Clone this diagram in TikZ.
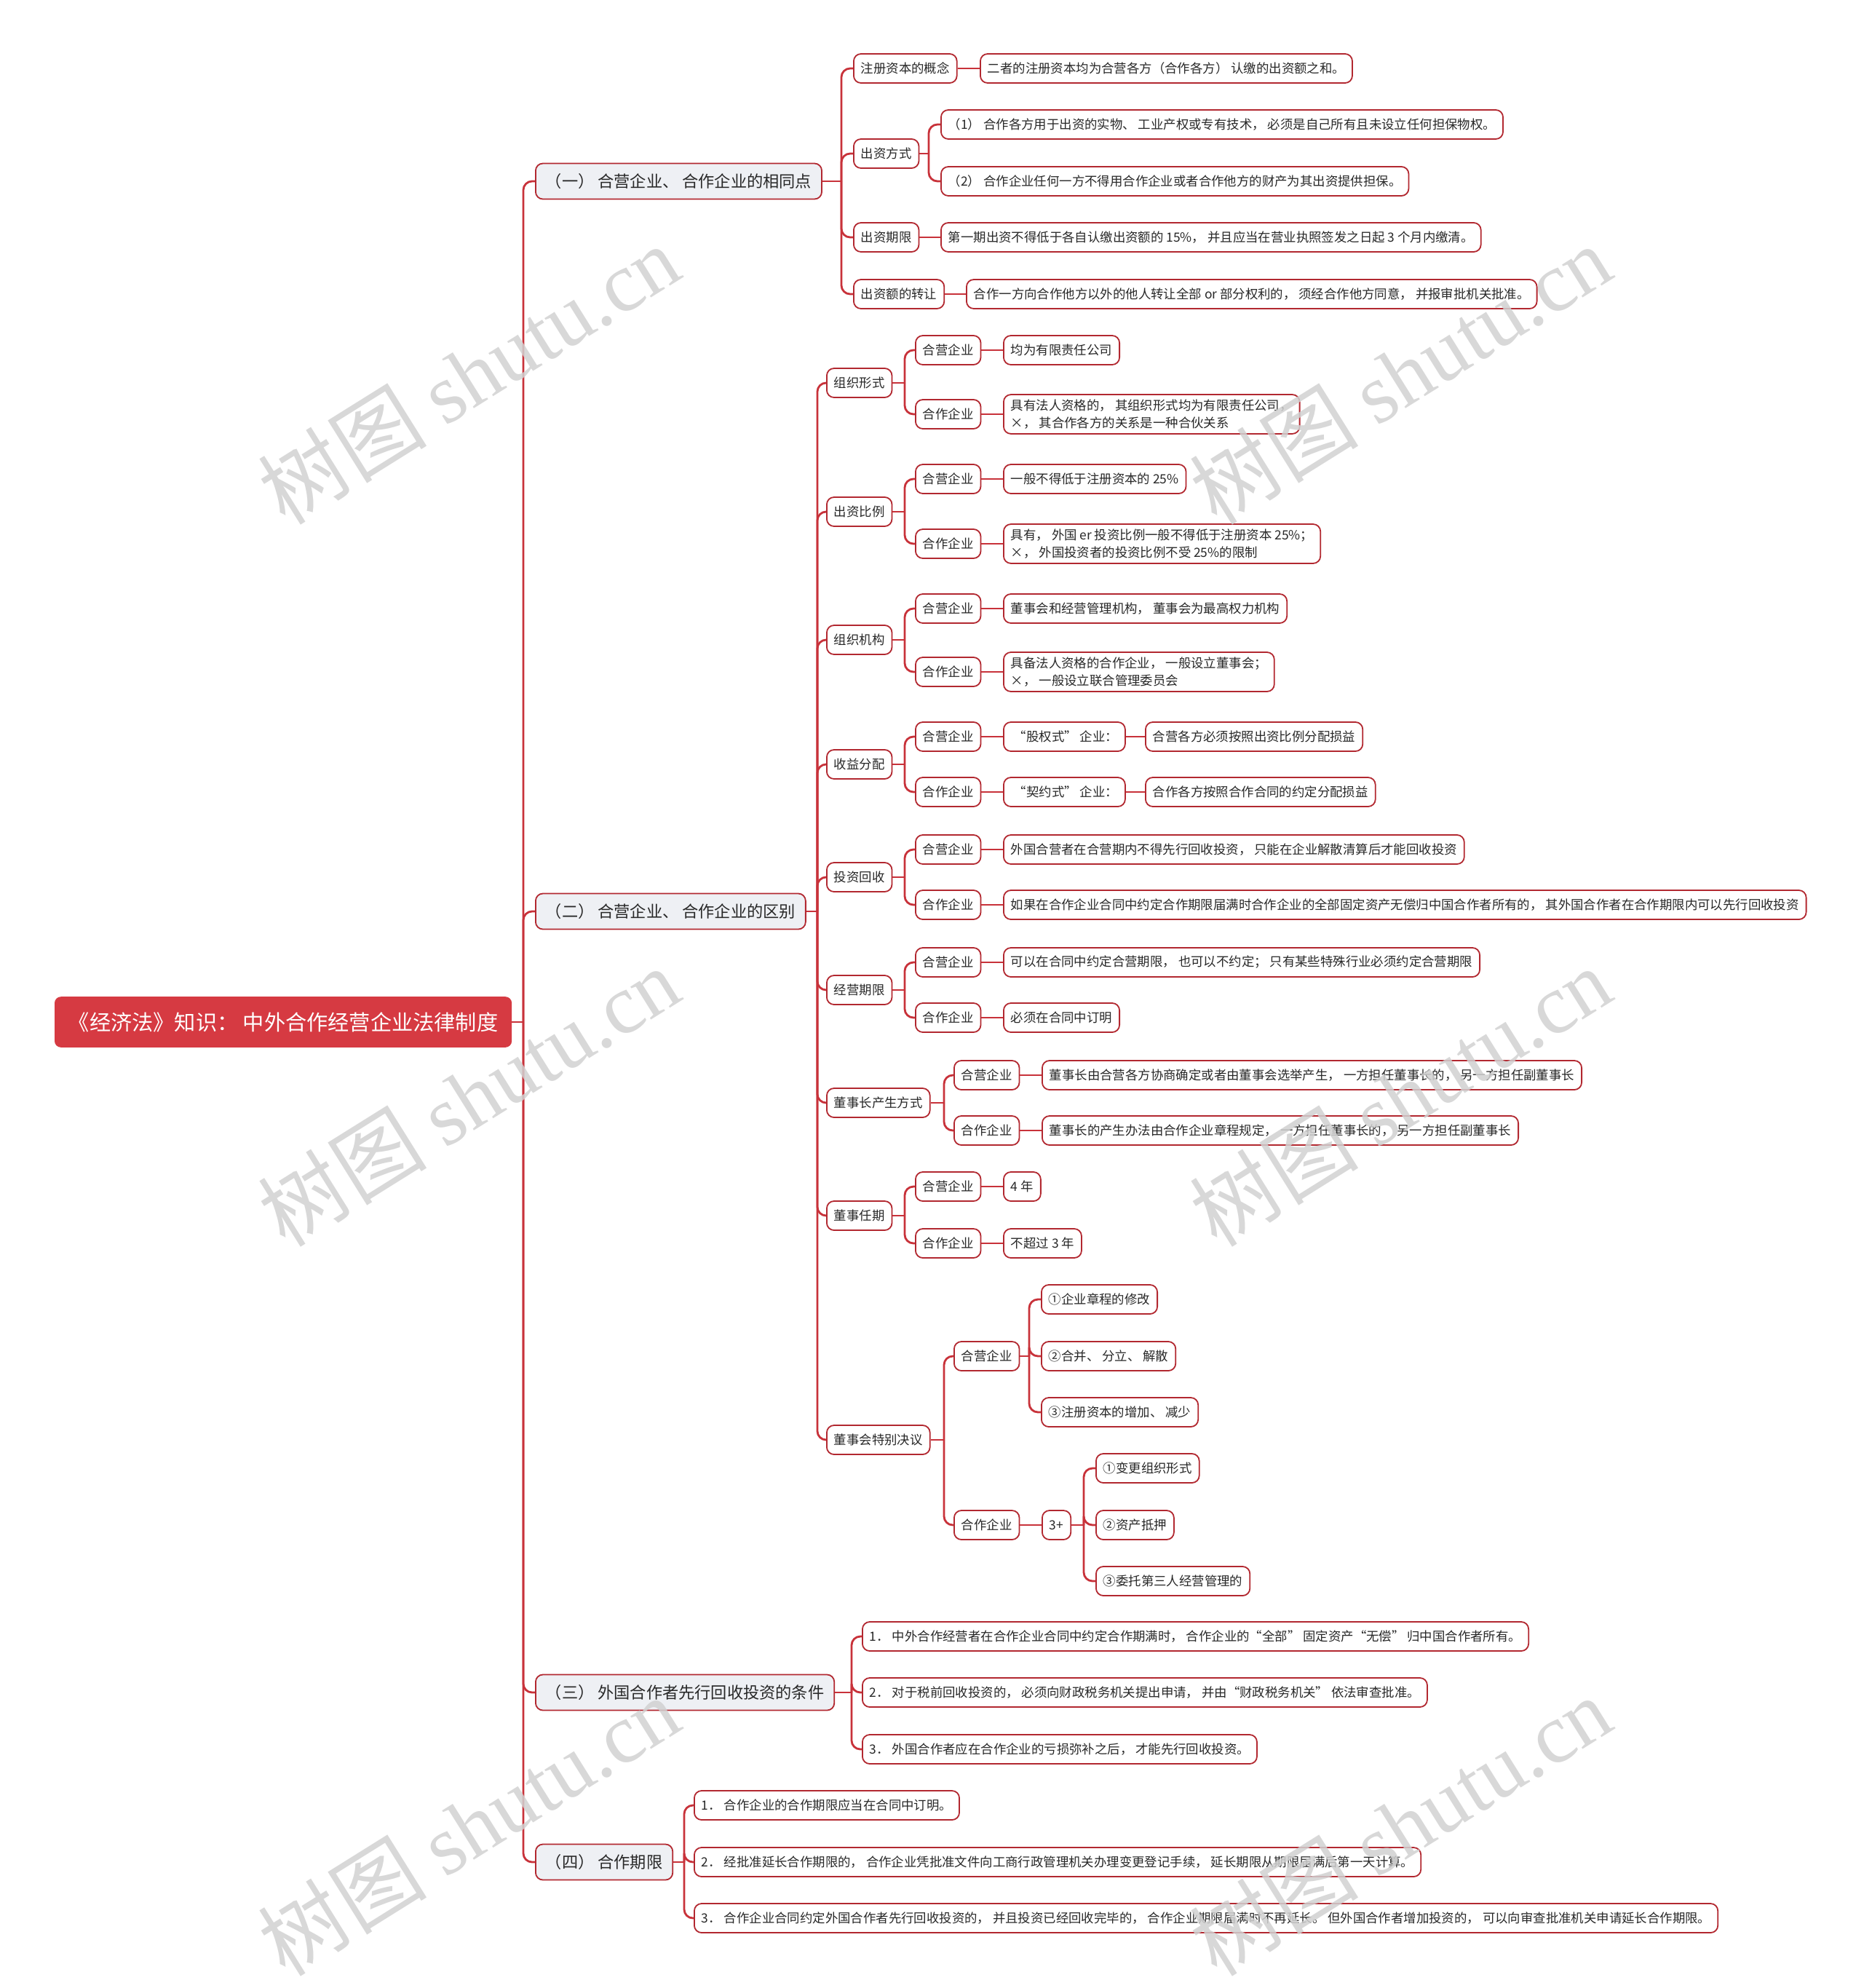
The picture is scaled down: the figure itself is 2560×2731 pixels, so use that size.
\documentclass[tikz,border=0pt]{standalone}
\usepackage{fontspec}
\setmainfont{Noto Sans CJK SC}
\newfontfamily\wmlatin{Liberation Serif}
\definecolor{rootred}{RGB}{214,58,66}
\definecolor{linered}{RGB}{200,50,58}
\definecolor{bord}{RGB}{178,40,48}
\definecolor{secfill}{RGB}{238,240,244}
\definecolor{txt}{RGB}{40,40,40}
\tikzset{
  root/.style={draw=rootred, fill=rootred, text=white, rounded corners=4pt, line width=0.8pt,
    font=\fontsize{14.6}{16}\selectfont, minimum height=34pt, inner xsep=9pt, anchor=west},
  sec/.style={draw=bord, fill=secfill, rounded corners=5pt, line width=0.9pt, text=txt,
    font=\fontsize{11.1}{13}\selectfont, minimum height=24.5pt, inner xsep=7pt, anchor=west},
  leaf/.style={draw=bord, fill=white, rounded corners=5pt, line width=0.9pt, text=txt,
    font=\fontsize{8.7}{12}\selectfont, minimum height=20pt, inner xsep=5pt, anchor=west, align=left},
  conn/.style={draw=linered, line width=1.4pt, rounded corners=6pt},
  wm/.style={text=black!18, opacity=0.85, rotate=32, font=\fontsize{58}{60}\selectfont}
}
\begin{document}
\begin{tikzpicture}[x=0.5pt,y=-0.5pt]
\useasboundingbox (0,0) rectangle (2560,2731);
% root
\node[root] (root) at (75,1404) {《经济法》知识：\ 中外合作经营企业法律制度};
\coordinate (s0) at (719,1404);
\draw[conn] (root.east) -- (s0);
% sections
\node[sec] (A) at (735,249) {（一）\ 合营企业、\ 合作企业的相同点};
\node[sec] (B) at (735,1252) {（二）\ 合营企业、\ 合作企业的区别};
\node[sec] (C) at (735,2325) {（三）\ 外国合作者先行回收投资的条件};
\node[sec] (D) at (735,2558) {（四）\ 合作期限};
\foreach \n in {A,B,C,D} \draw[conn] (s0) |- (\n.west);
% ---- section A
\coordinate (sA) at (1156,249);
\draw[conn] (A.east) -- (sA);
\node[leaf] (A1) at (1172,94) {注册资本的概念};
\node[leaf] (A2) at (1172,211) {出资方式};
\node[leaf] (A3) at (1172,326) {出资期限};
\node[leaf] (A4) at (1172,404) {出资额的转让};
\foreach \n in {A1,A2,A3,A4} \draw[conn] (sA) |- (\n.west);
\node[leaf] (A1L) at (1346,94) {二者的注册资本均为合营各方（合作各方） 认缴的出资额之和。};
\draw[conn] (A1.east) -- (A1L.west);
\coordinate (sA2) at (1276,211);
\draw[conn] (A2.east) -- (sA2);
\node[leaf] (A2a) at (1292,171) {（1） 合作各方用于出资的实物、 工业产权或专有技术， 必须是自己所有且未设立任何担保物权。};
\node[leaf] (A2b) at (1292,249) {（2） 合作企业任何一方不得用合作企业或者合作他方的财产为其出资提供担保。};
\draw[conn] (sA2) |- (A2a.west);
\draw[conn] (sA2) |- (A2b.west);
\node[leaf] (A3L) at (1292,326) {第一期出资不得低于各自认缴出资额的 15\%， 并且应当在营业执照签发之日起 3 个月内缴清。};
\draw[conn] (A3.east) -- (A3L.west);
\node[leaf] (A4L) at (1327,404) {合作一方向合作他方以外的他人转让全部 or 部分权利的， 须经合作他方同意， 并报审批机关批准。};
\draw[conn] (A4.east) -- (A4L.west);
% ---- section B
\coordinate (sB) at (1123,1252);
\draw[conn] (B.east) -- (sB);
\node[leaf] (B1) at (1135,526) {组织形式};
\node[leaf] (B2) at (1135,703) {出资比例};
\node[leaf] (B3) at (1135,879) {组织机构};
\node[leaf] (B4) at (1135,1050) {收益分配};
\node[leaf] (B5) at (1135,1205) {投资回收};
\node[leaf] (B6) at (1135,1360) {经营期限};
\node[leaf] (B7) at (1135,1515) {董事长产生方式};
\node[leaf] (B8) at (1135,1670) {董事任期};
\node[leaf] (B9) at (1135,1978) {董事会特别决议};
\foreach \n in {B1,B2,B3,B4,B5,B6,B7,B8,B9} \draw[conn] (sB) |- (\n.west);
% B1
\coordinate (sB1) at (1243,526); \draw[conn] (B1.east) -- (sB1);
\node[leaf] (B1a) at (1257,481) {合营企业};
\node[leaf] (B1b) at (1257,569) {合作企业};
\draw[conn] (sB1) |- (B1a.west); \draw[conn] (sB1) |- (B1b.west);
\node[leaf] (B1aL) at (1378,481) {均为有限责任公司};
\node[leaf] (B1bL) at (1378,569) {具有法人资格的， 其组织形式均为有限责任公司，\\×， 其合作各方的关系是一种合伙关系};
\draw[conn] (B1a.east) -- (B1aL.west); \draw[conn] (B1b.east) -- (B1bL.west);
% B2
\coordinate (sB2) at (1243,703); \draw[conn] (B2.east) -- (sB2);
\node[leaf] (B2a) at (1257,658) {合营企业};
\node[leaf] (B2b) at (1257,747) {合作企业};
\draw[conn] (sB2) |- (B2a.west); \draw[conn] (sB2) |- (B2b.west);
\node[leaf] (B2aL) at (1378,658) {一般不得低于注册资本的 25\%};
\node[leaf] (B2bL) at (1378,747) {具有， 外国 er 投资比例一般不得低于注册资本 25\%；\\×， 外国投资者的投资比例不受 25\%的限制};
\draw[conn] (B2a.east) -- (B2aL.west); \draw[conn] (B2b.east) -- (B2bL.west);
% B3
\coordinate (sB3) at (1243,879); \draw[conn] (B3.east) -- (sB3);
\node[leaf] (B3a) at (1257,836) {合营企业};
\node[leaf] (B3b) at (1257,923) {合作企业};
\draw[conn] (sB3) |- (B3a.west); \draw[conn] (sB3) |- (B3b.west);
\node[leaf] (B3aL) at (1378,836) {董事会和经营管理机构， 董事会为最高权力机构};
\node[leaf] (B3bL) at (1378,923) {具备法人资格的合作企业， 一般设立董事会；\\×， 一般设立联合管理委员会};
\draw[conn] (B3a.east) -- (B3aL.west); \draw[conn] (B3b.east) -- (B3bL.west);
% B4
\coordinate (sB4) at (1243,1050); \draw[conn] (B4.east) -- (sB4);
\node[leaf] (B4a) at (1257,1012) {合营企业};
\node[leaf] (B4b) at (1257,1088) {合作企业};
\draw[conn] (sB4) |- (B4a.west); \draw[conn] (sB4) |- (B4b.west);
\node[leaf] (B4a1) at (1378,1012) {\ “股权式”\ 企业：};
\node[leaf] (B4b1) at (1378,1088) {\ “契约式”\ 企业：};
\draw[conn] (B4a.east) -- (B4a1.west); \draw[conn] (B4b.east) -- (B4b1.west);
\node[leaf] (B4a2) at (1573,1012) {合营各方必须按照出资比例分配损益};
\node[leaf] (B4b2) at (1573,1088) {合作各方按照合作合同的约定分配损益};
\draw[conn] (B4a1.east) -- (B4a2.west); \draw[conn] (B4b1.east) -- (B4b2.west);
% B5
\coordinate (sB5) at (1243,1205); \draw[conn] (B5.east) -- (sB5);
\node[leaf] (B5a) at (1257,1167) {合营企业};
\node[leaf] (B5b) at (1257,1243) {合作企业};
\draw[conn] (sB5) |- (B5a.west); \draw[conn] (sB5) |- (B5b.west);
\node[leaf] (B5aL) at (1378,1167) {外国合营者在合营期内不得先行回收投资， 只能在企业解散清算后才能回收投资};
\node[leaf] (B5bL) at (1378,1243) {如果在合作企业合同中约定合作期限届满时合作企业的全部固定资产无偿归中国合作者所有的， 其外国合作者在合作期限内可以先行回收投资};
\draw[conn] (B5a.east) -- (B5aL.west); \draw[conn] (B5b.east) -- (B5bL.west);
% B6
\coordinate (sB6) at (1243,1360); \draw[conn] (B6.east) -- (sB6);
\node[leaf] (B6a) at (1257,1322) {合营企业};
\node[leaf] (B6b) at (1257,1398) {合作企业};
\draw[conn] (sB6) |- (B6a.west); \draw[conn] (sB6) |- (B6b.west);
\node[leaf] (B6aL) at (1378,1322) {可以在合同中约定合营期限， 也可以不约定； 只有某些特殊行业必须约定合营期限};
\node[leaf] (B6bL) at (1378,1398) {必须在合同中订明};
\draw[conn] (B6a.east) -- (B6aL.west); \draw[conn] (B6b.east) -- (B6bL.west);
% B7
\coordinate (sB7) at (1297,1515); \draw[conn] (B7.east) -- (sB7);
\node[leaf] (B7a) at (1310,1477) {合营企业};
\node[leaf] (B7b) at (1310,1553) {合作企业};
\draw[conn] (sB7) |- (B7a.west); \draw[conn] (sB7) |- (B7b.west);
\node[leaf] (B7aL) at (1431,1477) {董事长由合营各方协商确定或者由董事会选举产生， 一方担任董事长的， 另一方担任副董事长};
\node[leaf] (B7bL) at (1431,1553) {董事长的产生办法由合作企业章程规定， 一方担任董事长的， 另一方担任副董事长};
\draw[conn] (B7a.east) -- (B7aL.west); \draw[conn] (B7b.east) -- (B7bL.west);
% B8
\coordinate (sB8) at (1243,1670); \draw[conn] (B8.east) -- (sB8);
\node[leaf] (B8a) at (1257,1630) {合营企业};
\node[leaf] (B8b) at (1257,1708) {合作企业};
\draw[conn] (sB8) |- (B8a.west); \draw[conn] (sB8) |- (B8b.west);
\node[leaf] (B8aL) at (1378,1630) {4 年};
\node[leaf] (B8bL) at (1378,1708) {不超过 3 年};
\draw[conn] (B8a.east) -- (B8aL.west); \draw[conn] (B8b.east) -- (B8bL.west);
% B9
\coordinate (sB9) at (1297,1978); \draw[conn] (B9.east) -- (sB9);
\node[leaf] (B9a) at (1310,1863) {合营企业};
\node[leaf] (B9b) at (1310,2095) {合作企业};
\draw[conn] (sB9) |- (B9a.west); \draw[conn] (sB9) |- (B9b.west);
\coordinate (sB9a) at (1414,1863); \draw[conn] (B9a.east) -- (sB9a);
\node[leaf] (B9a1) at (1430,1785) {①企业章程的修改};
\node[leaf] (B9a2) at (1430,1863) {②合并、 分立、 解散};
\node[leaf] (B9a3) at (1430,1940) {③注册资本的增加、 减少};
\foreach \n in {B9a1,B9a2,B9a3} \draw[conn] (sB9a) |- (\n.west);
\node[leaf] (B9b0) at (1431,2095) {3+};
\draw[conn] (B9b.east) -- (B9b0.west);
\coordinate (sB9b) at (1489,2095); \draw[conn] (B9b0.east) -- (sB9b);
\node[leaf] (B9b1) at (1505,2017) {①变更组织形式};
\node[leaf] (B9b2) at (1505,2095) {②资产抵押};
\node[leaf] (B9b3) at (1505,2172) {③委托第三人经营管理的};
\foreach \n in {B9b1,B9b2,B9b3} \draw[conn] (sB9b) |- (\n.west);
% ---- section C
\coordinate (sC) at (1170,2325); \draw[conn] (C.east) -- (sC);
\node[leaf] (C1) at (1184,2248) {1．\ 中外合作经营者在合作企业合同中约定合作期满时， 合作企业的“全部” 固定资产“无偿” 归中国合作者所有。};
\node[leaf] (C2) at (1184,2325) {2．\ 对于税前回收投资的， 必须向财政税务机关提出申请， 并由“财政税务机关” 依法审查批准。};
\node[leaf] (C3) at (1184,2403) {3．\ 外国合作者应在合作企业的亏损弥补之后， 才能先行回收投资。};
\foreach \n in {C1,C2,C3} \draw[conn] (sC) |- (\n.west);
% ---- section D
\coordinate (sD) at (940,2558); \draw[conn] (D.east) -- (sD);
\node[leaf] (D1) at (953,2480) {1．\ 合作企业的合作期限应当在合同中订明。};
\node[leaf] (D2) at (953,2558) {2．\ 经批准延长合作期限的， 合作企业凭批准文件向工商行政管理机关办理变更登记手续， 延长期限从期限届满后第一天计算。};
\node[leaf] (D3) at (953,2635) {3．\ 合作企业合同约定外国合作者先行回收投资的， 并且投资已经回收完毕的， 合作企业期限届满时不再延长。 但外国合作者增加投资的， 可以向审查批准机关申请延长合作期限。};
\foreach \n in {D1,D2,D3} \draw[conn] (sD) |- (\n.west);
% ---- watermarks
\foreach \p [count=\i] in {(644,514),(1924,514),(644,1506),(1924,1506),(644,2508),(1924,2508)}
  \node[wm] (wm\i) at \p {树图\ {\wmlatin shutu.cn}};
\end{tikzpicture}
\end{document}
